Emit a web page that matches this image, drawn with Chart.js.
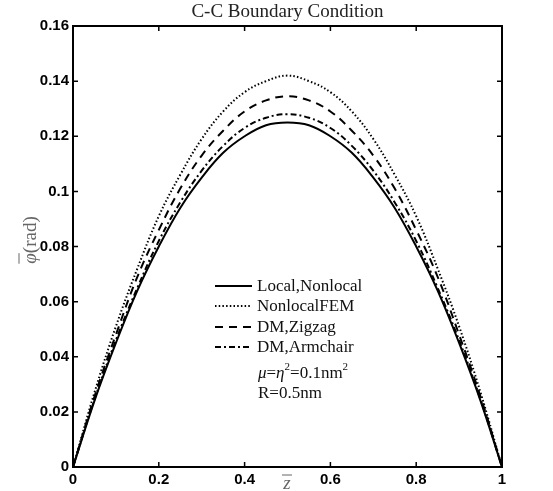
<!DOCTYPE html>
<html>
<head>
<meta charset="utf-8">
<script src="https://cdn.jsdelivr.net/npm/chart.js@4/dist/chart.umd.min.js"></script>
<style>
  html, body { margin: 0; padding: 0; background: #ffffff; }
  canvas { display: block; }
</style>
</head>
<body>
<canvas id="chart" width="553" height="491"></canvas>
<script>
// values
const zValues = [0, 0.05, 0.1, 0.15, 0.2, 0.25, 0.3, 0.35, 0.4, 0.45, 0.5,
    0.55, 0.6, 0.65, 0.7, 0.75, 0.8, 0.85, 0.9, 0.95, 1];
const localNonlocal = [0, 0.024, 0.045, 0.064, 0.080, 0.094, 0.105, 0.114, 0.120, 0.124, 0.125,
    0.124, 0.120, 0.114, 0.105, 0.094, 0.080, 0.064, 0.045, 0.024, 0];
const nonlocalFEM = [0, 0.027, 0.051, 0.072, 0.091, 0.106, 0.119, 0.129, 0.136, 0.140, 0.142,
    0.140, 0.136, 0.129, 0.119, 0.106, 0.091, 0.072, 0.051, 0.027, 0];
const dmZigzag = [0, 0.0255, 0.048, 0.069, 0.086, 0.101, 0.113, 0.122, 0.129, 0.133, 0.1345,
    0.133, 0.129, 0.122, 0.113, 0.101, 0.086, 0.069, 0.048, 0.0255, 0];
const dmArmchair = [0, 0.0245, 0.046, 0.065, 0.082, 0.096, 0.1075, 0.1165, 0.123, 0.1267, 0.128,
    0.1267, 0.123, 0.1165, 0.1075, 0.096, 0.082, 0.065, 0.046, 0.0245, 0];
const seriesLabels = ['Local,Nonlocal', 'NonlocalFEM', 'DM,Zigzag', 'DM,Armchair'];
const seriesDashes = [[], [1.5, 2.2], [8, 6], [6, 3, 2, 3]];

const chartTitle = 'C-C Boundary Condition';
const serif = '"Liberation Serif", "Times New Roman", serif';

const toPoints = (values) => zValues.map((z, i) => ({ x: z, y: values[i] }));

const makeDataset = (label, values, dash) => ({
    label: label,
    data: toPoints(values),
    borderColor: '#000000',
    borderWidth: 2,
    borderDash: dash,
    pointRadius: 0,
    tension: 0.4,
    fill: false,
});

// frame, inward ticks, titles, legend and note drawn on top
const decorations = {
    id: 'decorations',
    afterDraw(chart) {
        const ctx = chart.ctx;
        const area = chart.chartArea;
        const xScale = chart.scales.x;
        const yScale = chart.scales.y;
        ctx.save();

        // ticks pointing inward on all four sides
        ctx.strokeStyle = '#000000';
        ctx.lineWidth = 1.5;
        ctx.beginPath();
        xScale.ticks.forEach(t => {
            const px = xScale.getPixelForValue(t.value);
            ctx.moveTo(px, area.bottom);
            ctx.lineTo(px, area.bottom - 5);
            ctx.moveTo(px, area.top);
            ctx.lineTo(px, area.top + 5);
        });
        yScale.ticks.forEach(t => {
            const py = yScale.getPixelForValue(t.value);
            ctx.moveTo(area.left, py);
            ctx.lineTo(area.left + 5, py);
            ctx.moveTo(area.right, py);
            ctx.lineTo(area.right - 5, py);
        });
        ctx.stroke();

        // box
        ctx.lineWidth = 2;
        ctx.strokeRect(area.left, area.top, area.right - area.left, area.bottom - area.top);

        // chart title
        ctx.fillStyle = '#222222';
        ctx.font = '19px ' + serif;
        ctx.textAlign = 'center';
        ctx.textBaseline = 'middle';
        ctx.fillText(chartTitle, (area.left + area.right) / 2, 12);

        // x axis title: z with overline
        ctx.fillStyle = '#666666';
        ctx.font = 'italic 19px ' + serif;
        const zx = 287;
        const zy = 484;
        ctx.fillText('z', zx, zy);
        ctx.strokeStyle = '#666666';
        ctx.lineWidth = 1;
        ctx.beginPath();
        ctx.moveTo(zx - 5, zy - 9);
        ctx.lineTo(zx + 5, zy - 9);
        ctx.stroke();

        // y axis title: phi with overline (rad), rotated
        ctx.save();
        ctx.translate(31, 240);
        ctx.rotate(-Math.PI / 2);
        ctx.textAlign = 'left';
        ctx.font = 'italic 19px ' + serif;
        const phiWidth = ctx.measureText('φ').width;
        ctx.font = '19px ' + serif;
        const radWidth = ctx.measureText('(rad)').width;
        const startX = -(phiWidth + radWidth) / 2;
        ctx.font = 'italic 19px ' + serif;
        ctx.fillText('φ', startX, 0);
        ctx.beginPath();
        ctx.moveTo(startX, -12);
        ctx.lineTo(startX + phiWidth, -12);
        ctx.stroke();
        ctx.font = '19px ' + serif;
        ctx.fillText('(rad)', startX + phiWidth, 0);
        ctx.restore();

        // legend inside the plot
        const legendX = 215;
        const textX = 257;
        const rowYs = [286, 306, 327, 347];
        ctx.font = '17px ' + serif;
        ctx.textAlign = 'left';
        ctx.textBaseline = 'middle';
        chart.data.datasets.forEach((ds, i) => {
            ctx.strokeStyle = '#000000';
            ctx.lineWidth = 2;
            ctx.setLineDash(ds.borderDash);
            ctx.beginPath();
            ctx.moveTo(legendX, rowYs[i]);
            ctx.lineTo(legendX + 37, rowYs[i]);
            ctx.stroke();
            ctx.setLineDash([]);
            ctx.fillStyle = '#111111';
            ctx.fillText(ds.label, textX, rowYs[i] + 1);
        });

        // parameter note
        let nx = 258;
        const ny1 = 374;
        const parts = [
            { text: 'μ', font: 'italic 17px ' + serif, dy: 0 },
            { text: '=', font: '17px ' + serif, dy: 0 },
            { text: 'η', font: 'italic 17px ' + serif, dy: 0 },
            { text: '2', font: '11px ' + serif, dy: -7 },
            { text: '=0.1nm', font: '17px ' + serif, dy: 0 },
            { text: '2', font: '11px ' + serif, dy: -7 },
        ];
        parts.forEach(p => {
            ctx.font = p.font;
            ctx.fillText(p.text, nx, ny1 + p.dy);
            nx += ctx.measureText(p.text).width;
        });
        ctx.font = '17px ' + serif;
        ctx.fillText('R=0.5nm', 258, 394);

        ctx.restore();
    }
};

const tickFont = { family: '"Liberation Sans", Arial, sans-serif', size: 15, weight: 'bold' };

new Chart(document.getElementById('chart').getContext('2d'), {
    type: 'line',
    data: {
        datasets: [
            makeDataset(seriesLabels[0], localNonlocal, seriesDashes[0]),
            makeDataset(seriesLabels[1], nonlocalFEM, seriesDashes[1]),
            makeDataset(seriesLabels[2], dmZigzag, seriesDashes[2]),
            makeDataset(seriesLabels[3], dmArmchair, seriesDashes[3]),
        ]
    },
    options: {
        responsive: false,
        animation: false,
        layout: {
            padding: { top: 26, right: 51, bottom: 0, left: 0 }
        },
        scales: {
            x: {
                type: 'linear',
                min: 0,
                max: 1,
                grid: { display: false, drawTicks: false },
                border: { display: false },
                ticks: {
                    stepSize: 0.2,
                    padding: 4,
                    color: '#000000',
                    font: tickFont,
                    maxRotation: 0,
                    callback: (v) => String(Number(v.toFixed(2))),
                },
                afterFit: (scale) => { scale.height = 24; },
            },
            y: {
                min: 0,
                max: 0.16,
                grid: { display: false, drawTicks: false },
                border: { display: false },
                ticks: {
                    stepSize: 0.02,
                    padding: 4,
                    color: '#000000',
                    font: tickFont,
                    callback: (v) => String(Number(v.toFixed(2))),
                },
                afterFit: (scale) => { scale.width = 73; },
            }
        },
        plugins: {
            legend: { display: false },
            tooltip: { enabled: false },
        }
    },
    plugins: [decorations]
});
</script>
</body>
</html>
